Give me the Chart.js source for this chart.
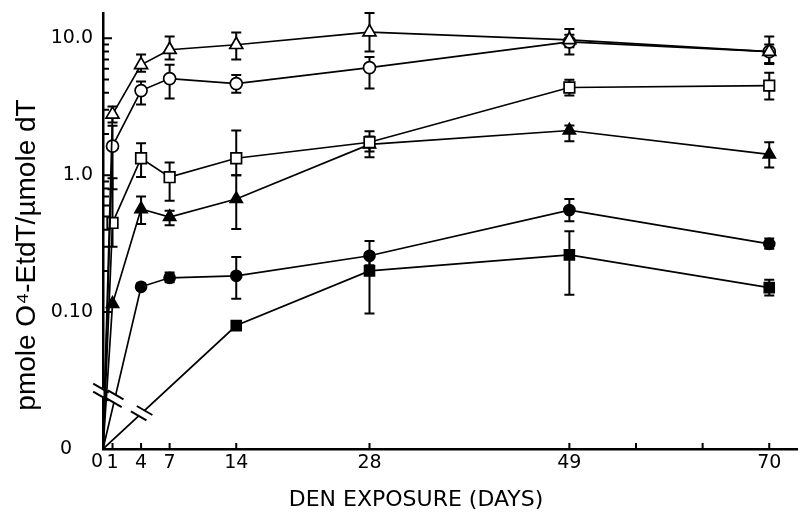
<!DOCTYPE html>
<html>
<head>
<meta charset="utf-8">
<script src="https://cdn.jsdelivr.net/npm/chart.js@4.4.0/dist/chart.umd.min.js"></script>
<style>
  html, body { margin: 0; padding: 0; background: #fff; }
  #wrap { width: 807px; height: 519px; }
</style>
</head>
<body>
<div id="wrap"><canvas id="chart" width="807" height="519"></canvas></div>
<script>
// days of DEN exposure
const days = [0, 1, 4, 7, 14, 28, 49, 70];
const xTickDays = [0, 1, 4, 7, 14, 28, 49, 56, 63, 70];
const xLabelDays = [0, 1, 4, 7, 14, 28, 49, 70];
const yMajor = [0.01, 0.1, 1, 10];
const yLabels = ['0', '0.10', '1.0', '10.0'];
const yMinor = [0.2, 0.3, 0.4, 0.5, 0.6, 0.7, 0.8, 0.9, 2, 3, 4, 5, 6, 7, 8, 9];
const ZERO = 0.01;      // the "0" position under the axis break
const BREAK_AT = 0.026; // where the y axis is broken

// pmole O4-EtdT / umole dT (null = no value)
const openTriangle   = [0, 2.78, 6.4, 8.25, 8.97, 11.1, 9.75, 7.98];
const openTriangleLo = [null, 2.43, 5.7, 7.0, 7.0, 8.0, 8.6, 6.6];
const openTriangleHi = [null, 3.17, 7.6, 10.3, 11.0, 15.3, 11.7, 10.3];

const openCircle   = [0, 1.63, 4.15, 5.08, 4.67, 6.1, 9.4, 7.98];
const openCircleLo = [null, 0.79, 3.28, 3.63, 4.0, 4.3, 7.6, 6.5];
const openCircleHi = [null, 2.3, 4.83, 6.4, 5.4, 7.3, 10.6, 9.0];

const openSquare   = [0, 0.448, 1.33, 0.967, 1.33, 1.74, 4.37, 4.51];
const openSquareLo = [null, 0.3, 0.97, 0.65, 1.0, 1.49, 3.82, 3.57];
const openSquareHi = [null, 0.95, 1.71, 1.24, 2.12, 2.09, 4.98, 5.6];

const filledTriangle   = [0, 0.115, 0.566, 0.495, 0.67, 1.68, 2.12, 1.42];
const filledTriangleLo = [null, null, 0.44, 0.43, 0.405, 1.35, 1.77, 1.14];
const filledTriangleHi = [null, null, 0.70, 0.55, 1.0, 1.92, 2.31, 1.74];

const filledCircle   = [0, null, 0.153, 0.178, 0.184, 0.258, 0.556, 0.315];
const filledCircleLo = [null, null, 0.145, 0.165, 0.125, 0.22, 0.46, 0.29];
const filledCircleHi = [null, null, 0.162, 0.195, 0.253, 0.33, 0.67, 0.345];

const filledSquare   = [0, null, null, null, 0.0797, 0.2, 0.262, 0.151];
const filledSquareLo = [null, null, null, null, 0.076, 0.0975, 0.134, 0.132];
const filledSquareHi = [null, null, null, null, 0.083, 0.27, 0.39, 0.172];

const series = [
  { vals: openTriangle, lo: openTriangleLo, hi: openTriangleHi, style: 'triangle', fill: '#fff', r: 7.5 },
  { vals: openCircle, lo: openCircleLo, hi: openCircleHi, style: 'circle', fill: '#fff', r: 6 },
  { vals: openSquare, lo: openSquareLo, hi: openSquareHi, style: 'rect', fill: '#fff', r: 7.5 },
  { vals: filledTriangle, lo: filledTriangleLo, hi: filledTriangleHi, style: 'triangle', fill: '#000', r: 7 },
  { vals: filledCircle, lo: filledCircleLo, hi: filledCircleHi, style: 'circle', fill: '#000', r: 5.5 },
  { vals: filledSquare, lo: filledSquareLo, hi: filledSquareHi, style: 'rect', fill: '#000', r: 7 },
];

const toPoints = (vals) => days
  .map((d, i) => vals[i] == null ? null : { x: d, y: vals[i] === 0 ? ZERO : vals[i] })
  .filter(p => p);

const datasets = series.map(s => ({
  data: toPoints(s.vals),
  borderColor: '#000',
  borderWidth: 1.7,
  pointStyle: s.style,
  pointRadius: s.vals.map(v => v === 0 ? 0 : s.r).filter((v, i) => s.vals[i] != null),
  pointBackgroundColor: s.fill,
  pointBorderColor: '#000',
  pointBorderWidth: 1.7,
  tension: 0,
}));

// error bars, under the markers
const errorBars = {
  id: 'errorBars',
  beforeDatasetsDraw(chart) {
    const { ctx, scales: { x, y } } = chart;
    ctx.save();
    ctx.strokeStyle = '#000';
    ctx.lineWidth = 2;
    series.forEach(s => {
      days.forEach((d, i) => {
        if (s.lo[i] == null || s.hi[i] == null) return;
        const px = x.getPixelForValue(d);
        const y1 = y.getPixelForValue(s.lo[i]);
        const y2 = y.getPixelForValue(s.hi[i]);
        ctx.beginPath();
        ctx.moveTo(px, y1); ctx.lineTo(px, y2);
        ctx.moveTo(px - 5, y1); ctx.lineTo(px + 5, y1);
        ctx.moveTo(px - 5, y2); ctx.lineTo(px + 5, y2);
        ctx.stroke();
      });
    });
    ctx.restore();
  }
};

function drawBreak(ctx, cx, cy, dx, dy) {
  const len = Math.hypot(dx, dy);
  dx /= len; dy /= len;
  const gap = 4;
  ctx.save();
  ctx.strokeStyle = '#fff';
  ctx.lineWidth = 5;
  ctx.beginPath();
  ctx.moveTo(cx - dx * gap, cy - dy * gap);
  ctx.lineTo(cx + dx * gap, cy + dy * gap);
  ctx.stroke();
  const mx = Math.cos(Math.PI / 6), my = Math.sin(Math.PI / 6);
  ctx.strokeStyle = '#000';
  ctx.lineWidth = 2;
  [-gap, gap].forEach(o => {
    const ox = cx + dx * o, oy = cy + dy * o;
    ctx.beginPath();
    ctx.moveTo(ox - mx * 9, oy - my * 9);
    ctx.lineTo(ox + mx * 9, oy + my * 9);
    ctx.stroke();
  });
  ctx.restore();
}

// ticks, axis break and axis titles
const decorations = {
  id: 'decorations',
  afterDraw(chart) {
    const { ctx, scales: { x, y }, chartArea } = chart;
    ctx.save();
    ctx.strokeStyle = '#000';
    ctx.lineWidth = 2;
    ctx.beginPath();
    xTickDays.forEach(d => {
      const px = x.getPixelForValue(d);
      ctx.moveTo(px, chartArea.bottom); ctx.lineTo(px, chartArea.bottom - 6);
    });
    yMajor.slice(1).forEach(v => {
      const py = y.getPixelForValue(v);
      ctx.moveTo(chartArea.left, py); ctx.lineTo(chartArea.left + 9, py);
    });
    yMinor.forEach(v => {
      const py = y.getPixelForValue(v);
      ctx.moveTo(chartArea.left, py); ctx.lineTo(chartArea.left + 6, py);
    });
    ctx.stroke();

    // break on the y axis
    drawBreak(ctx, chartArea.left - 2, y.getPixelForValue(BREAK_AT), 0, -1);
    // breaks on the lines that leave zero after day 1
    chart.data.datasets.forEach(ds => {
      const p0 = ds.data[0], p1 = ds.data[1];
      if (!p1 || p1.x <= 1) return;
      const x0 = x.getPixelForValue(p0.x), y0 = y.getPixelForValue(p0.y);
      const x1 = x.getPixelForValue(p1.x), y1 = y.getPixelForValue(p1.y);
      const f = p1.x > 7 ? 0.29 : 0.31;
      drawBreak(ctx, x0 + (x1 - x0) * f, y0 + (y1 - y0) * f, x1 - x0, y1 - y0);
    });

    ctx.fillStyle = '#000';
    ctx.textAlign = 'center';
    ctx.textBaseline = 'middle';
    // the two "0" labels sit a little off their ticks, as in the original
    ctx.font = '19px "DejaVu Sans", sans-serif';
    ctx.fillText('0', 66, y.getPixelForValue(ZERO));
    ctx.textBaseline = 'top';
    ctx.fillText('0', x.getPixelForValue(0) - 6, chartArea.bottom + 4);
    ctx.textBaseline = 'middle';

    ctx.font = '28px "Liberation Sans", Arial, sans-serif';
    ctx.save();
    ctx.translate(27, 255);
    ctx.rotate(-Math.PI / 2);
    ctx.fillText('pmole O\u2074-EtdT/\u00b5mole dT', 0, 0);
    ctx.restore();
    ctx.font = '22px "DejaVu Sans", sans-serif';
    ctx.fillText('DEN EXPOSURE (DAYS)', 416, 500);
    ctx.restore();
  }
};

new Chart(document.getElementById('chart'), {
  type: 'line',
  data: { datasets },
  options: {
    responsive: false,
    animation: false,
    layout: { padding: { top: 13, right: 0, left: 0, bottom: 0 } },
    plugins: { legend: { display: false }, tooltip: { enabled: false } },
    scales: {
      x: {
        type: 'linear',
        min: 0,
        max: 73,
        afterBuildTicks: (scale) => { scale.ticks = xLabelDays.map(v => ({ value: v })); },
        afterFit: (scale) => { scale.height = 70; scale.paddingLeft = 0; scale.paddingRight = 0; },
        ticks: {
          autoSkip: false,
          maxRotation: 0,
          padding: 3,
          color: '#000',
          font: { family: 'DejaVu Sans', size: 19 },
          callback: (v) => v === 0 ? '' : String(v),
        },
        grid: { display: true, drawOnChartArea: false, drawTicks: false },
        border: { display: true, color: '#000', width: 2.5 },
      },
      y: {
        type: 'logarithmic',
        min: ZERO,
        max: 15.3,
        afterBuildTicks: (scale) => { scale.ticks = yMajor.map(v => ({ value: v })); },
        afterFit: (scale) => { scale.width = 103; scale.paddingTop = 0; scale.paddingBottom = 0; },
        ticks: {
          autoSkip: false,
          padding: 10,
          color: '#000',
          font: { family: 'DejaVu Sans', size: 19 },
          callback: (v) => v === ZERO ? '' : (yLabels[yMajor.indexOf(v)] ?? ''),
        },
        grid: { display: true, drawOnChartArea: false, drawTicks: false },
        border: { display: true, color: '#000', width: 2.5 },
      }
    }
  },
  plugins: [errorBars, decorations]
});
</script>
</body>
</html>
